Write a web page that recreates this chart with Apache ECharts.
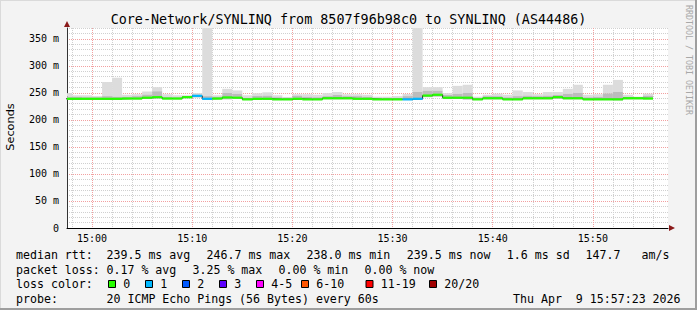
<!DOCTYPE html>
<html><head><meta charset="utf-8">
<script src="https://cdn.jsdelivr.net/npm/echarts@6/dist/echarts.min.js"></script>
<style>html,body{margin:0;padding:0;background:#f3f3f3}#c{width:697px;height:310px}</style>
</head><body><div id="c"></div><script>
// ---- data ----
const titleText = 'Core-Network/SYNLINQ from 8507f96b98c0 to SYNLINQ (AS44486)';
const stepTimes = ['14:57','14:58','14:59','15:00','15:01','15:02','15:03','15:04','15:05','15:06','15:07','15:08','15:09','15:10','15:11','15:12','15:13','15:14','15:15','15:16','15:17','15:18','15:19','15:20','15:21','15:22','15:23','15:24','15:25','15:26','15:27','15:28','15:29','15:30','15:31','15:32','15:33','15:34','15:35','15:36','15:37','15:38','15:39','15:40','15:41','15:42','15:43','15:44','15:45','15:46','15:47','15:48','15:49','15:50','15:51','15:52','15:53','15:54','15:55'];
const medianRtt = [239,239,239,239,239,239,239.5,239.5,241,242,239.5,239.5,242,244.5,239,239.5,241.5,241,238,239,239,238,238,239,238,238,240,240,240,239,239,238,238,238,238,239,245,246.5,241,241,241,238,240,240,238,238,240,240,240,242,240,240,238,238,238,238,240,240,239.5];
const minRtt = [237.5,237,237.5,237.5,237,237,238,238,239,239.5,238,238,240,241.5,237,238,238,239,236.5,237.5,237.5,236.5,236.5,237,236.5,236.5,238,238,238,237.5,237.5,236.5,236.5,236.5,236.5,237,242,243,238.5,239,237.5,236.5,238,238,236.5,236.5,238,238,238,239,238,238,236.5,236.5,236.5,236,238,238,238];
const upperRtt = [243,243,242,242,244,243,243,244,247,253,243,242,244,247,244,243,250,248,241,244,245,242,241,245,243,242,244,246,244,244,243,241,241,241,244,252,254,254,246,248,250,241,244,244,242,244,245,244,245,246,248,250,242,243,249,252,243,242,245];
const maxRtt = [249.5,245.5,245.5,244,270,278,246.5,247.5,252.5,260.5,247.5,245.5,245.5,249.5,395,245.5,257.5,254.5,245.5,249.5,251,245.5,242.5,247.5,247.5,246.5,249.5,251.5,247.5,247.5,246.5,243,243,244,248,395,260.5,260.5,249.5,263,265,243,246.5,248.5,246.5,254.5,251.5,247.5,251.5,251.5,257.5,265,246.5,247.5,265,274,246.5,243,248.5];
const lossCount = [0,0,0,0,0,0,0,0,0,0,0,0,0,1,1,0,0,0,0,0,0,0,0,0,0,0,0,0,0,0,0,0,0,0,1,1,0,0,0,0,0,0,0,0,0,0,0,0,0,0,0,0,0,0,0,0,0,0,0];
const yTickValues = [0,50,100,150,200,250,300,350];
const yTickLabels = ['0','50 m','100 m','150 m','200 m','250 m','300 m','350 m'];
const xTickValues = ['15:00','15:10','15:20','15:30','15:40','15:50'];
const medianStats = ['239.5 ms avg','246.7 ms max','238.0 ms min','239.5 ms now','1.6 ms sd','147.7','am/s'];
const lossStats = ['0.17 % avg','3.25 % max','0.00 % min','0.00 % now'];
const lossLabels = ['0','1','2','3','4-5','6-10','11-19','20/20'];
const lossColors = ['#26ff00','#00b8ff','#0059ff','#5e00ff','#ff00ff','#ff5500','#ff0000','#a10000'];
const probeText = '20 ICMP Echo Pings (56 Bytes) every 60s';
const dateText = 'Thu Apr  9 15:57:23 2026';
const viewStart = '14:57:30', viewEnd = '15:57:30';

// ---- helpers ----
function toMin(s){const p=s.split(':').map(Number);return (p[0]-15)*60+p[1]+(p[2]||0)/60;}
function lossBin(n){ if(n<=3) return n; if(n<=5) return 4; if(n<=10) return 5; if(n<=19) return 6; return 7; }
const xMin = toMin(viewStart), xMax = toMin(viewEnd);
const starts = stepTimes.map(toMin);
const smokeData = starts.map((s,i)=>[s, s+1, minRtt[i], upperRtt[i], maxRtt[i]]);
const bandData = starts.map((s,i)=>[s, s+1, medianRtt[i], lossCount[i]]);
const lineData = starts.map((s,i)=>[s, medianRtt[i]]);
lineData.push([starts[starts.length-1]+1, medianRtt[medianRtt.length-1]]);
const xTickMins = xTickValues.map(toMin);

const MONO = '"DejaVu Sans Mono", monospace';
const GRAY = '#d0d0d0', RED = '#f2a0a0', NONE = 'rgba(0,0,0,0)';
// vertical grid: ticks every 0.5 min from xMin; colour pattern repeats every 10 minutes
const xLineColors = [];
for (let i=0;i<20;i++){ const m = xMin + i*0.5; const mm = ((m%10)+10)%10; xLineColors.push(mm===0?RED:(Math.abs(mm%2)<1e-9?GRAY:NONE)); }
const yLineColors = [RED,GRAY,GRAY,GRAY,GRAY];

function clipRect(r, cs){ return echarts.graphic.clipRectByRect(r, {x:cs.x,y:cs.y,width:cs.width,height:cs.height}); }

function renderSmoke(params, api){
  const cs = params.coordSys;
  const x0=api.value(0), x1=api.value(1), lo=api.value(2), up=api.value(3), hi=api.value(4);
  const a=api.coord([x0,lo]), b=api.coord([x1,up]), c=api.coord([x1,hi]);
  const light = clipRect({x:a[0], y:c[1], width:b[0]-a[0], height:b[1]-c[1]}, cs);
  const mid = clipRect({x:a[0], y:b[1], width:b[0]-a[0], height:a[1]-b[1]}, cs);
  const ch=[];
  if (light) ch.push({type:'rect', shape:light, style:{fill:'#dcdcdc'}});
  if (mid) ch.push({type:'rect', shape:mid, style:{fill:'#bcbcbc'}});
  return {type:'group', children:ch};
}
function renderBand(params, api){
  const cs = params.coordSys;
  const x0=api.value(0), x1=api.value(1), med=api.value(2), loss=api.value(3);
  const a=api.coord([x0,med]), b=api.coord([x1,med]);
  const r = clipRect({x:a[0], y:a[1]-1.1, width:b[0]-a[0], height:2.2}, cs);
  if (!r) return null;
  return {type:'rect', shape:r, style:{fill:lossColors[lossBin(loss)]}};
}

// ---- legend graphics ----
const g = [];
function txt(text,x,y,opt){ g.push(Object.assign({type:'text', x:x, y:y, silent:true, style:{text:text, font:'11.6px '+MONO, fill:'#000', align:'left', verticalAlign:'middle'}}, opt||{})); }
// frame
g.push({type:'rect', shape:{x:0,y:0,width:697,height:1}, style:{fill:'#dadada'}, silent:true});
g.push({type:'rect', shape:{x:0,y:0,width:1,height:310}, style:{fill:'#dadada'}, silent:true});
g.push({type:'rect', shape:{x:695,y:0,width:2,height:310}, style:{fill:'#9e9e9e'}, silent:true});
g.push({type:'rect', shape:{x:0,y:308,width:697,height:2}, style:{fill:'#9e9e9e'}, silent:true});
// axis arrows
g.push({type:'polygon', shape:{points:[[64,27],[70,27],[67,21]]}, style:{fill:'#8b1a1a'}, silent:true, z:10});
g.push({type:'polygon', shape:{points:[[669,225],[669,231],[675,228]]}, style:{fill:'#8b1a1a'}, silent:true, z:10});
// unit label & watermark
g.push({type:'text', x:10, y:127, rotation:Math.PI/2, silent:true, style:{text:'Seconds', font:'11.3px "DejaVu Sans", sans-serif', fill:'#000', align:'center', verticalAlign:'middle'}});
g.push({type:'text', x:688.5, y:60, rotation:-Math.PI/2, silent:true, style:{text:'RRDTOOL / TOBI OETIKER', font:'8.3px '+MONO, fill:'#a8a8a8', align:'center', verticalAlign:'middle'}});
// rows
const r1=254.5, r2=269.5, r3=284, r4=299;
txt('median rtt:',16,r1);
const mx=[106.5,206.5,306.5,406.8,506.8,585.5,641.5];
medianStats.forEach((s,i)=>txt(s,mx[i],r1));
txt('packet loss:',16,r2);
const lx=[106.5,192.5,278.5,364.5];
lossStats.forEach((s,i)=>txt(s,lx[i],r2));
txt('loss color:',16,r3);
const sqx=[108,145,182,219,256,301,365.5,429];
lossLabels.forEach((s,i)=>{
  g.push({type:'rect', shape:{x:sqx[i]+0.5,y:r3-3.5,width:7,height:7}, style:{fill:lossColors[i], stroke:'#000', lineWidth:1}, silent:true});
  txt(s,sqx[i]+15.3,r3);
});
txt('probe:',16,r4);
txt(probeText,106.5,r4);
txt(dateText,513,r4);

const chart = echarts.init(document.getElementById('c'), null, {renderer:'svg', width:697, height:310});
chart.setOption({
  backgroundColor:'#f3f3f3',
  animation:false,
  title:{text:titleText, left:'center', top:12.5, padding:0, textStyle:{fontFamily:MONO, fontSize:13.4, fontWeight:'normal', color:'#000'}},
  grid:{left:67, right:29, top:28, bottom:82, show:true, backgroundColor:'#ffffff', borderWidth:0},
  xAxis:{type:'value', min:xMin, max:xMax, interval:0.5,
    axisLine:{show:true, onZero:false, lineStyle:{color:'#000', width:1}},
    axisTick:{show:false},
    splitLine:{show:true, lineStyle:{color:xLineColors, type:[1,1], width:1}},
    axisLabel:{show:true, margin:5, fontFamily:MONO, fontSize:10, color:'#000',
      formatter:function(v){ for(let i=0;i<xTickMins.length;i++){ if(Math.abs(v-xTickMins[i])<1e-6) return xTickValues[i]; } return ''; }}
  },
  yAxis:{type:'value', min:0, max:370, interval:10,
    axisLine:{show:true, onZero:false, lineStyle:{color:'#333', width:1}},
    axisTick:{show:false},
    splitLine:{show:true, lineStyle:{color:yLineColors, type:[1,1], width:1}},
    axisLabel:{show:true, margin:8, fontFamily:MONO, fontSize:10, color:'#000',
      formatter:function(v){ const k=yTickValues.indexOf(v); return k>=0?yTickLabels[k]:''; }}
  },
  graphic:{elements:g},
  series:[
    {type:'custom', name:'smoke', renderItem:renderSmoke, data:smokeData, z:2, silent:true, encode:{x:[0,1], y:[2,3,4]}},
    {type:'line', name:'median', data:lineData, step:'end', showSymbol:false, z:3, silent:true, lineStyle:{color:'#202020', width:1}},
    {type:'custom', name:'loss', renderItem:renderBand, data:bandData, z:4, silent:true, encode:{x:[0,1], y:2}}
  ]
});
</script></body></html>
